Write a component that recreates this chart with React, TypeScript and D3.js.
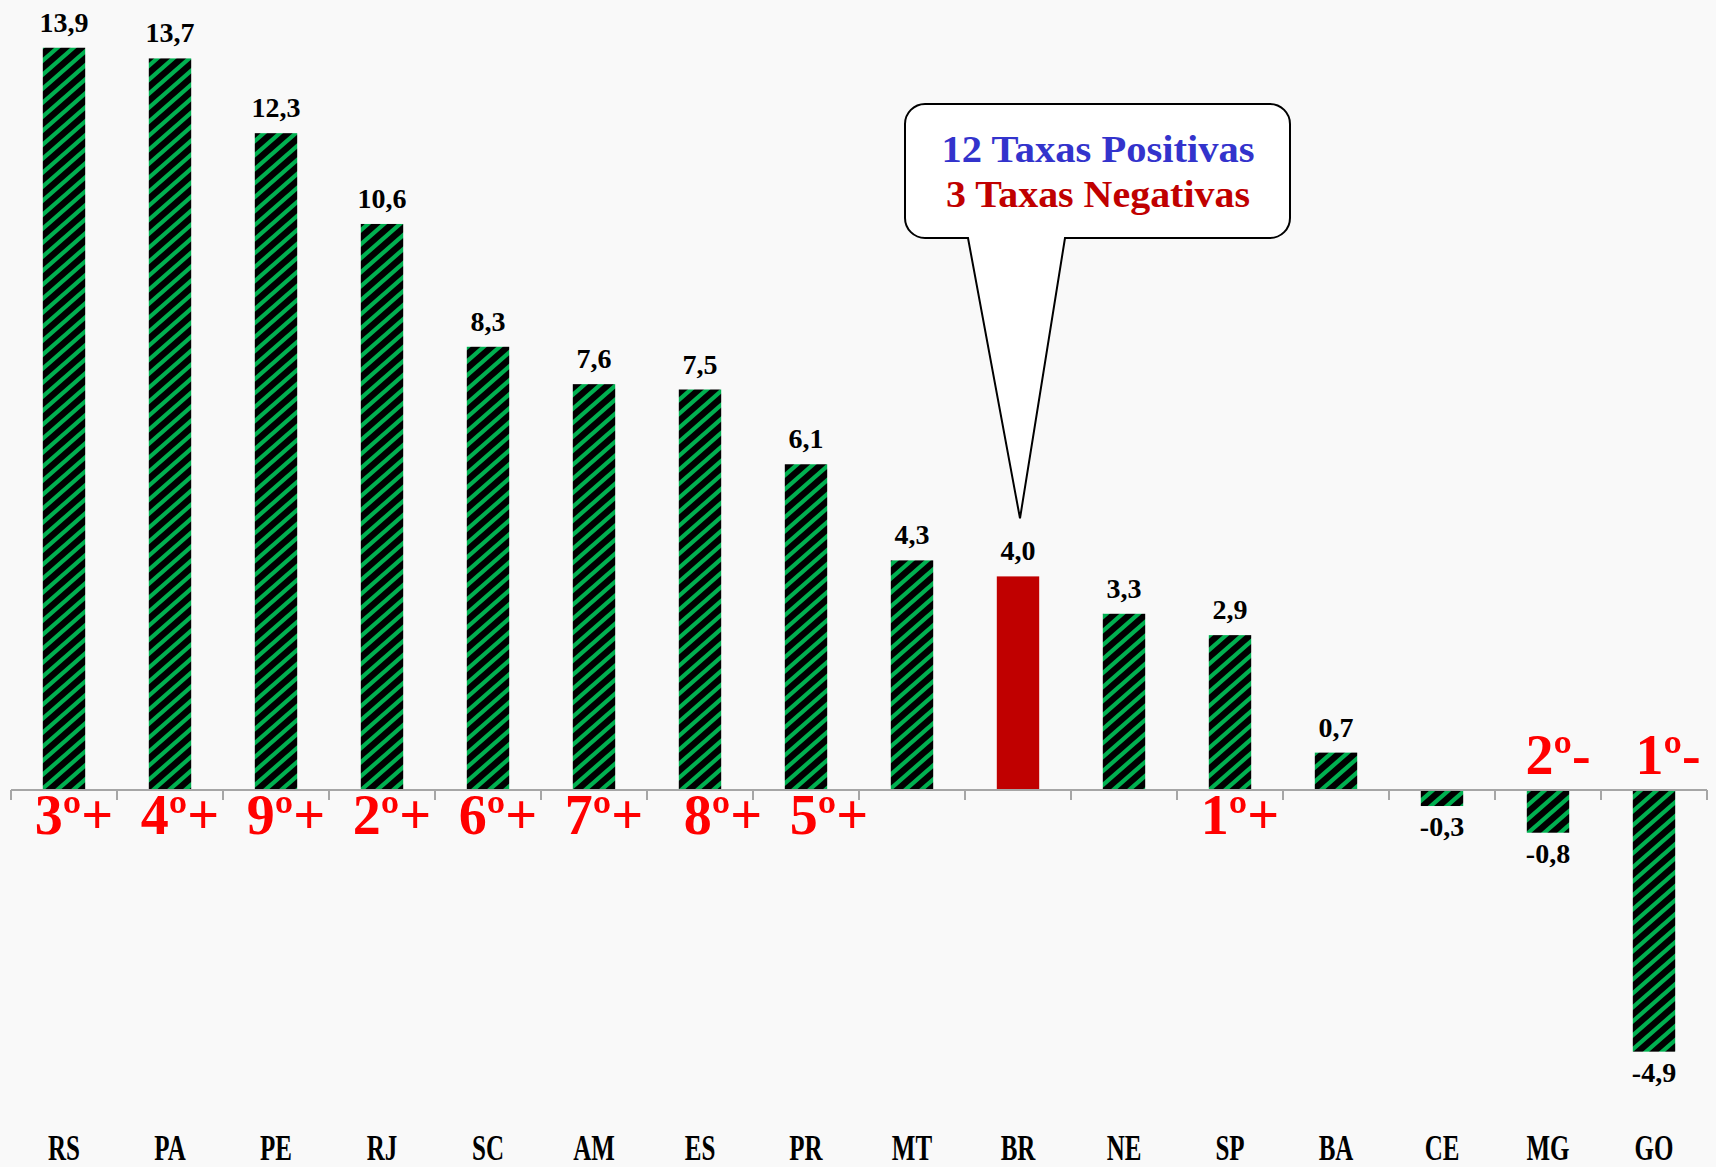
import React from "react";
import * as d3 from "d3";

const categories = ["RS", "PA", "PE", "RJ", "SC", "AM", "ES", "PR", "MT", "BR", "NE", "SP", "BA", "CE", "MG", "GO"];
const values = [13.9, 13.7, 12.3, 10.6, 8.3, 7.6, 7.5, 6.1, 4.3, 4.0, 3.3, 2.9, 0.7, -0.3, -0.8, -4.9];
const highlight = "BR";
const ranks: { cat: string; label: string }[] = [
  { cat: "RS", label: "3º+" },
  { cat: "PA", label: "4º+" },
  { cat: "PE", label: "9º+" },
  { cat: "RJ", label: "2º+" },
  { cat: "SC", label: "6º+" },
  { cat: "AM", label: "7º+" },
  { cat: "ES", label: "8º+" },
  { cat: "PR", label: "5º+" },
  { cat: "SP", label: "1º+" },
  { cat: "MG", label: "2º-" },
  { cat: "GO", label: "1º-" },
];
const calloutLines = ["12 Taxas Positivas", "3 Taxas Negativas"];

const W = 1716;
const H = 1167;
const FONT = "'Liberation Serif', 'Times New Roman', serif";

// layout-only nudges for the rank annotations
const rankDx: Record<string, number> = { ES: 23, PR: 23, GO: 14 };

const fmt = (v: number) => v.toFixed(1).replace(".", ",");

export default function App() {
  const x = d3.scaleBand<string>().domain(categories).range([11, 1707]).paddingInner(0.6).paddingOuter(0.3);
  const y = d3.scaleLinear().domain([-5, 14]).range([1057, 42.4]);
  const y0 = y(0);
  const step = x.step();
  const bw = x.bandwidth();
  const cx = (c: string) => (x(c) as number) + bw / 2;

  const boundaries = d3.range(categories.length + 1).map((i) => 11 + i * step);

  // callout geometry
  const bx0 = 905, by0 = 104, bx1 = 1290, by1 = 238, r = 20;
  const tipX = cx(highlight) + 2;
  const tipY = y(4.0) - 58;
  const p = d3.path();
  p.moveTo(bx0 + r, by0);
  p.lineTo(bx1 - r, by0);
  p.arcTo(bx1, by0, bx1, by0 + r, r);
  p.lineTo(bx1, by1 - r);
  p.arcTo(bx1, by1, bx1 - r, by1, r);
  p.lineTo(1065, by1);
  p.lineTo(tipX, tipY);
  p.lineTo(968, by1);
  p.lineTo(bx0 + r, by1);
  p.arcTo(bx0, by1, bx0, by1 - r, r);
  p.lineTo(bx0, by0 + r);
  p.arcTo(bx0, by0, bx0 + r, by0, r);
  p.closePath();

  return (
    <svg width={W} height={H} style={{ position: "absolute", left: 0, top: 0 }} fontFamily={FONT}>
      <defs>
        <pattern id="stripes" patternUnits="userSpaceOnUse" width={16} height={14}>
          <rect width={16} height={14} fill="#000" />
          <path d="M-16,14 L16,-14 M0,14 L16,0 M0,28 L32,0" stroke="#00B050" strokeWidth={4.2} />
        </pattern>
      </defs>
      <rect width={W} height={H} fill="#F9F9F9" />

      {categories.map((c, i) => {
        const v = values[i];
        const top = v >= 0 ? y(v) : y0;
        const h = Math.abs(y(v) - y0);
        return (
          <rect key={c} x={x(c)} y={top} width={bw} height={h} fill={c === highlight ? "#C00000" : "url(#stripes)"} />
        );
      })}

      <line x1={11} x2={1707} y1={y0} y2={y0} stroke="#A6A6A6" strokeWidth={2} />
      {boundaries.map((b, i) => (
        <line key={i} x1={b} x2={b} y1={y0} y2={y0 + 10} stroke="#A6A6A6" strokeWidth={2} />
      ))}

      {categories.map((c, i) => {
        const v = values[i];
        const ly = v >= 0 ? y(v) - 16 : y(v) + 30;
        return (
          <text key={c} x={cx(c)} y={ly} textAnchor="middle" fontSize={28} fontWeight="bold" fill="#000">
            {fmt(v)}
          </text>
        );
      })}

      {categories.map((c) => (
        <text
          key={c}
          textAnchor="middle"
          fontSize={25}
          fontWeight="bold"
          fill="#000"
          transform={`translate(${cx(c)},1160) scale(1,1.42)`}
        >
          {c}
        </text>
      ))}

      {ranks.map((rk) => {
        const v = values[categories.indexOf(rk.cat)];
        const ly = v >= 0 ? 834 : 774;
        const dx = rankDx[rk.cat] ?? 10;
        return (
          <text key={rk.cat} x={cx(rk.cat) + dx} y={ly} textAnchor="middle" fontSize={56} fontWeight="bold" fill="#FF0000">
            {rk.label}
          </text>
        );
      })}

      <path d={p.toString()} fill="#FFFFFF" stroke="#000" strokeWidth={2} />
      <text x={1098} y={162} textAnchor="middle" fontSize={38} fontWeight="bold" fill="#3333CC" textLength={313} lengthAdjust="spacingAndGlyphs">
        {calloutLines[0]}
      </text>
      <text x={1098} y={207} textAnchor="middle" fontSize={38} fontWeight="bold" fill="#C00000" textLength={304} lengthAdjust="spacingAndGlyphs">
        {calloutLines[1]}
      </text>
    </svg>
  );
}
